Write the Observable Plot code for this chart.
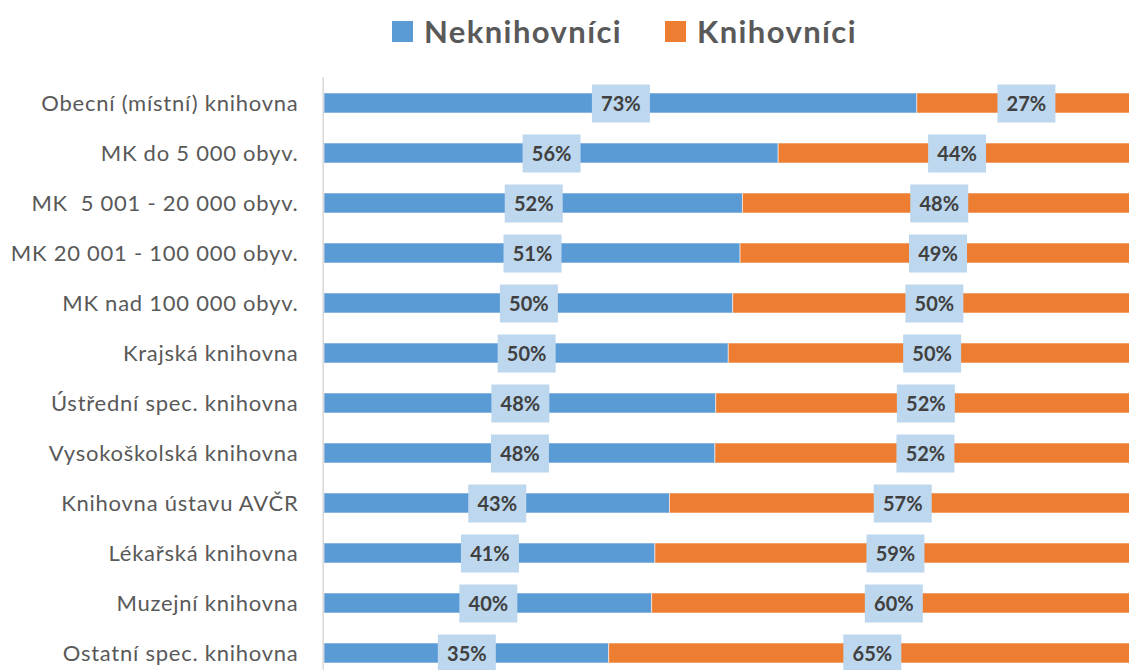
<!DOCTYPE html>
<html>
<head>
<meta charset="utf-8">
<script src="https://cdn.jsdelivr.net/npm/d3@7"></script>
<script src="https://cdn.jsdelivr.net/npm/@observablehq/plot@0.6"></script>
<style>
  html, body { margin: 0; padding: 0; background: #fff; overflow: hidden; }
  #legend { position: relative; height: 70px; font-family: Lato, "Open Sans", sans-serif; font-weight: 700; font-size: 31px; letter-spacing: 1.4px; color: #595959; }
  #legend .item { position: absolute; top: 11px; height: 41px; display: flex; align-items: center; }
  #legend .sw { width: 21px; height: 21px; margin-right: 11px; }
  #legend .lbl { line-height: 1; }
  #chart svg { display: block; }
  #chart [aria-label="y-axis tick label"] text { letter-spacing: 0.75px; }
</style>
</head>
<body>
<div id="legend"></div>
<div id="chart"></div>
<script>
const categories = [
  "Obecní (místní) knihovna",
  "MK do 5 000 obyv.",
  "MK  5 001 - 20 000 obyv.",
  "MK 20 001 - 100 000 obyv.",
  "MK nad 100 000 obyv.",
  "Krajská knihovna",
  "Ústřední spec. knihovna",
  "Vysokoškolská knihovna",
  "Knihovna ústavu AVČR",
  "Lékařská knihovna",
  "Muzejní knihovna",
  "Ostatní spec. knihovna"
];
const seriesNames = ["Neknihovníci", "Knihovníci"];
const seriesColors = ["#5b9bd5", "#ed7d31"];
const neknihovniciValues = [0.731, 0.560, 0.516, 0.513, 0.504, 0.4985, 0.483, 0.482, 0.426, 0.408, 0.404, 0.351];
const knihovniciValues   = [0.269, 0.440, 0.484, 0.487, 0.496, 0.5015, 0.517, 0.518, 0.574, 0.592, 0.596, 0.649];
const neknihovniciLabels = ["73%", "56%", "52%", "51%", "50%", "50%", "48%", "48%", "43%", "41%", "40%", "35%"];
const knihovniciLabels   = ["27%", "44%", "48%", "49%", "50%", "50%", "52%", "52%", "57%", "59%", "60%", "65%"];

const data = [];
categories.forEach((c, i) => {
  data.push({cat: c, series: seriesNames[0], value: neknihovniciValues[i], label: neknihovniciLabels[i]});
  data.push({cat: c, series: seriesNames[1], value: knihovniciValues[i], label: knihovniciLabels[i]});
});

// legend
const legend = document.getElementById("legend");
const legendLeft = [392, 665];
seriesNames.forEach((s, i) => {
  const it = document.createElement("div");
  it.className = "item";
  it.style.left = legendLeft[i] + "px";
  it.innerHTML = `<div class="sw" style="background:${seriesColors[i]}"></div><div class="lbl">${s}</div>`;
  legend.appendChild(it);
});

const boxSymbol = { draw(ctx) { ctx.rect(-29, -19, 58, 38); } };

const chart = Plot.plot({
  width: 1129,
  height: 608,
  marginTop: 7,
  marginBottom: 0,
  marginLeft: 324,
  marginRight: -6,
  style: { fontFamily: "Lato, 'Open Sans', sans-serif", fontSize: "22px", color: "#595959", background: "#fff" },
  x: { domain: [0, 1], axis: null },
  y: { domain: categories, paddingInner: 0.6, paddingOuter: 0.31, tickSize: 0, tickPadding: 26, label: null },
  color: { domain: seriesNames, range: seriesColors },
  marks: [
    Plot.barX(data, Plot.stackX({ x: "value", y: "cat", z: "series", fill: "series", stroke: "#ffffff", strokeOpacity: 0.55, strokeWidth: 1 })),
    Plot.ruleX([0], { stroke: "#d9d9d9", strokeWidth: 1.5, dx: -1.3 }),
    Plot.dot(data, Plot.stackX({ x: "value", y: "cat", z: "series", symbol: boxSymbol, fill: "#bdd7ee", stroke: "none" })),
    Plot.text(data, Plot.stackX({ x: "value", y: "cat", z: "series", text: "label", fill: "#404040", fontWeight: "bold", fontSize: 20, dy: 1 }))
  ]
});
document.getElementById("chart").appendChild(chart);
</script>
</body>
</html>
